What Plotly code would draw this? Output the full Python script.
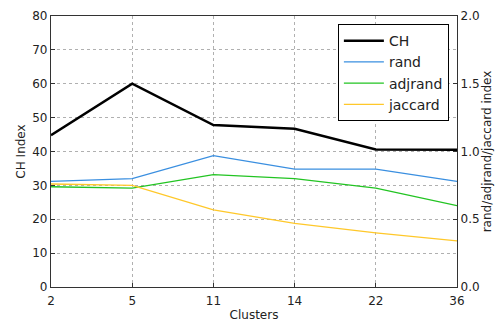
import plotly.graph_objects as go

clusters = ["2", "5", "11", "14", "22", "36"]
ch = [44.8, 60.0, 47.8, 46.7, 40.6, 40.5]
rand = [0.78, 0.80, 0.97, 0.87, 0.87, 0.78]
adjrand = [0.74, 0.73, 0.83, 0.80, 0.73, 0.60]
jaccard = [0.76, 0.75, 0.57, 0.47, 0.40, 0.34]

FONT = "DejaVu Sans"
fig = go.Figure()
fig.add_trace(go.Scatter(x=clusters, y=ch, name="CH", mode="lines",
                         line=dict(color="black", width=2.5)))
fig.add_trace(go.Scatter(x=clusters, y=rand, name="rand", mode="lines", yaxis="y2",
                         line=dict(color="#3a8fe0", width=1.3)))
fig.add_trace(go.Scatter(x=clusters, y=adjrand, name="adjrand", mode="lines", yaxis="y2",
                         line=dict(color="#22c422", width=1.3)))
fig.add_trace(go.Scatter(x=clusters, y=jaccard, name="jaccard", mode="lines", yaxis="y2",
                         line=dict(color="#ffc82a", width=1.3)))

axis_common = dict(showline=True, linecolor="#333", linewidth=1.2, ticks="inside",
                   ticklen=4, tickcolor="#333", zeroline=False, automargin=False,
                   tickfont=dict(family=FONT, size=12, color="#222"))
fig.update_layout(
    width=495, height=322,
    margin=dict(l=51, r=38, t=16, b=35),
    paper_bgcolor="white", plot_bgcolor="white",
    font=dict(family=FONT, size=12, color="#222"),
    xaxis=dict(type="category", range=[0, 5], mirror=True,
               showgrid=True, gridcolor="#b0b0b0", griddash="dot", gridwidth=1,
               ticklabelstandoff=2,
               title=dict(text="Clusters", font=dict(family=FONT, size=12), standoff=6),
               **axis_common),
    yaxis=dict(range=[0, 80], dtick=10, showgrid=True, gridcolor="#b0b0b0",
               griddash="dot", gridwidth=1,
               title=dict(text="CH Index", font=dict(family=FONT, size=12), standoff=4),
               **axis_common),
    yaxis2=dict(range=[0, 2], dtick=0.5, tickformat=".1f", overlaying="y", side="right",
                showgrid=False,
                title=dict(text="rand/adjrand/jaccard index", font=dict(family=FONT, size=12), standoff=4),
                **axis_common),
    legend=dict(x=0.98, y=0.97, xanchor="right", yanchor="top",
                bgcolor="white", bordercolor="black", borderwidth=1,
                font=dict(family=FONT, size=14, color="#222"),
                itemwidth=40, tracegroupgap=0),
    showlegend=True,
)
fig.write_html("out.html")
